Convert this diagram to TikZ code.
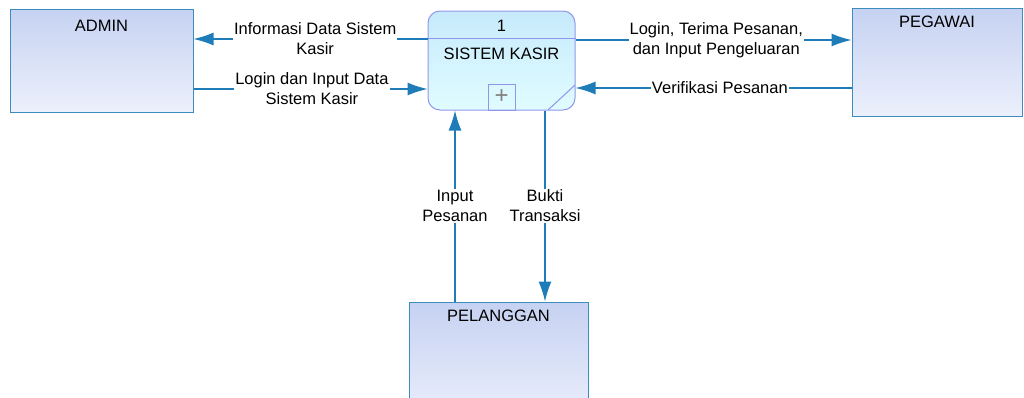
\documentclass[tikz,border=0pt]{standalone}
\usepackage{fontspec}
\setmainfont{Liberation Sans}
\usetikzlibrary{arrows.meta}

\definecolor{flowblue}{RGB}{30,125,185}
\definecolor{entline}{RGB}{60,140,190}
\definecolor{enttop}{RGB}{198,210,242}
\definecolor{entbot}{RGB}{236,240,252}
\definecolor{procline}{RGB}{145,150,235}
\definecolor{proctop}{RGB}{198,234,252}
\definecolor{procbot}{RGB}{224,252,255}

\tikzset{
  entity/.style={draw=entline, line width=1pt, top color=enttop, bottom color=entbot, inner sep=0pt},
  entname/.style={anchor=north, inner xsep=0pt, inner ysep=8pt},
  process/.style={draw=procline, line width=1pt, rounded corners=12pt, top color=proctop, bottom color=procbot, minimum width=147pt, minimum height=99pt},
  flow/.style={draw=flowblue, line width=1.3pt, -{Latex[length=20pt,width=13pt]}},
  flowtext/.style={fill=white, inner sep=1pt, align=center},
}

\begin{document}
\begin{tikzpicture}[x=1pt,y=1pt,yscale=-1,xscale=1,font=\fontsize{16.5}{20}\selectfont]
\useasboundingbox (0,0) rectangle (1024,397);

%Shape: Rectangle
\node (admin) [entity, minimum width=183pt, minimum height=103pt, label={[entname, inner ysep=11pt]north:ADMIN}] at (101.5,60.5) {};
%Shape: Rectangle
\node (pegawai) [entity, minimum width=170pt, minimum height=108pt, label={[entname]north:PEGAWAI}] at (937,62) {};
%Shape: Rectangle
\node (pelanggan) [entity, minimum width=179pt, minimum height=120pt, label={[entname]north:PELANGGAN}] at (498.5,362) {};

%Shape: Rounded Rect
\node (proc) [process] at (501.5,60.5) {};
\draw [draw=procline, line width=1pt] (proc.west |- 0,38) -- (proc.east |- 0,38) ;
\node (procid) at (501.5,26) {1};
\node (procname) at (501.5,54) {SISTEM KASIR};
\node (procplus) [draw=procline, line width=1pt, minimum width=27pt, minimum height=26pt, inner sep=0pt, text=gray, font=\fontsize{24}{24}\selectfont] at (501.5,97) {+};
\draw [draw=procline, line width=1pt] (548,110) -- (575,85) ;

%Straight Lines
\draw [flow] (proc.west |- 0,39) -- (admin.east |- 0,39) node [flowtext, pos=0.48] {Informasi Data Sistem\\Kasir};
%Straight Lines
\draw [flow] (admin.east |- 0,89) -- (proc.west |- 0,89) node [flowtext, pos=0.506] {Login dan Input Data\\Sistem Kasir};
%Straight Lines
\draw [flow] (proc.east |- 0,40) -- (pegawai.west |- 0,40) node [flowtext, pos=0.51] {Login, Terima Pesanan,\\dan Input Pengeluaran};
%Straight Lines
\draw [flow] (pegawai.west |- 0,88) -- (proc.east |- 0,88) node [flowtext, pos=0.477] {Verifikasi Pesanan};
%Straight Lines
\draw [flow] (pelanggan.north -| 455,0) -- (proc.south -| 455,0) node [flowtext, pos=0.5] {Input\\Pesanan};
%Straight Lines
\draw [flow] (proc.south -| 545,0) -- (pelanggan.north -| 545,0) node [flowtext, pos=0.5] {Bukti\\Transaksi};

\end{tikzpicture}
\end{document}
